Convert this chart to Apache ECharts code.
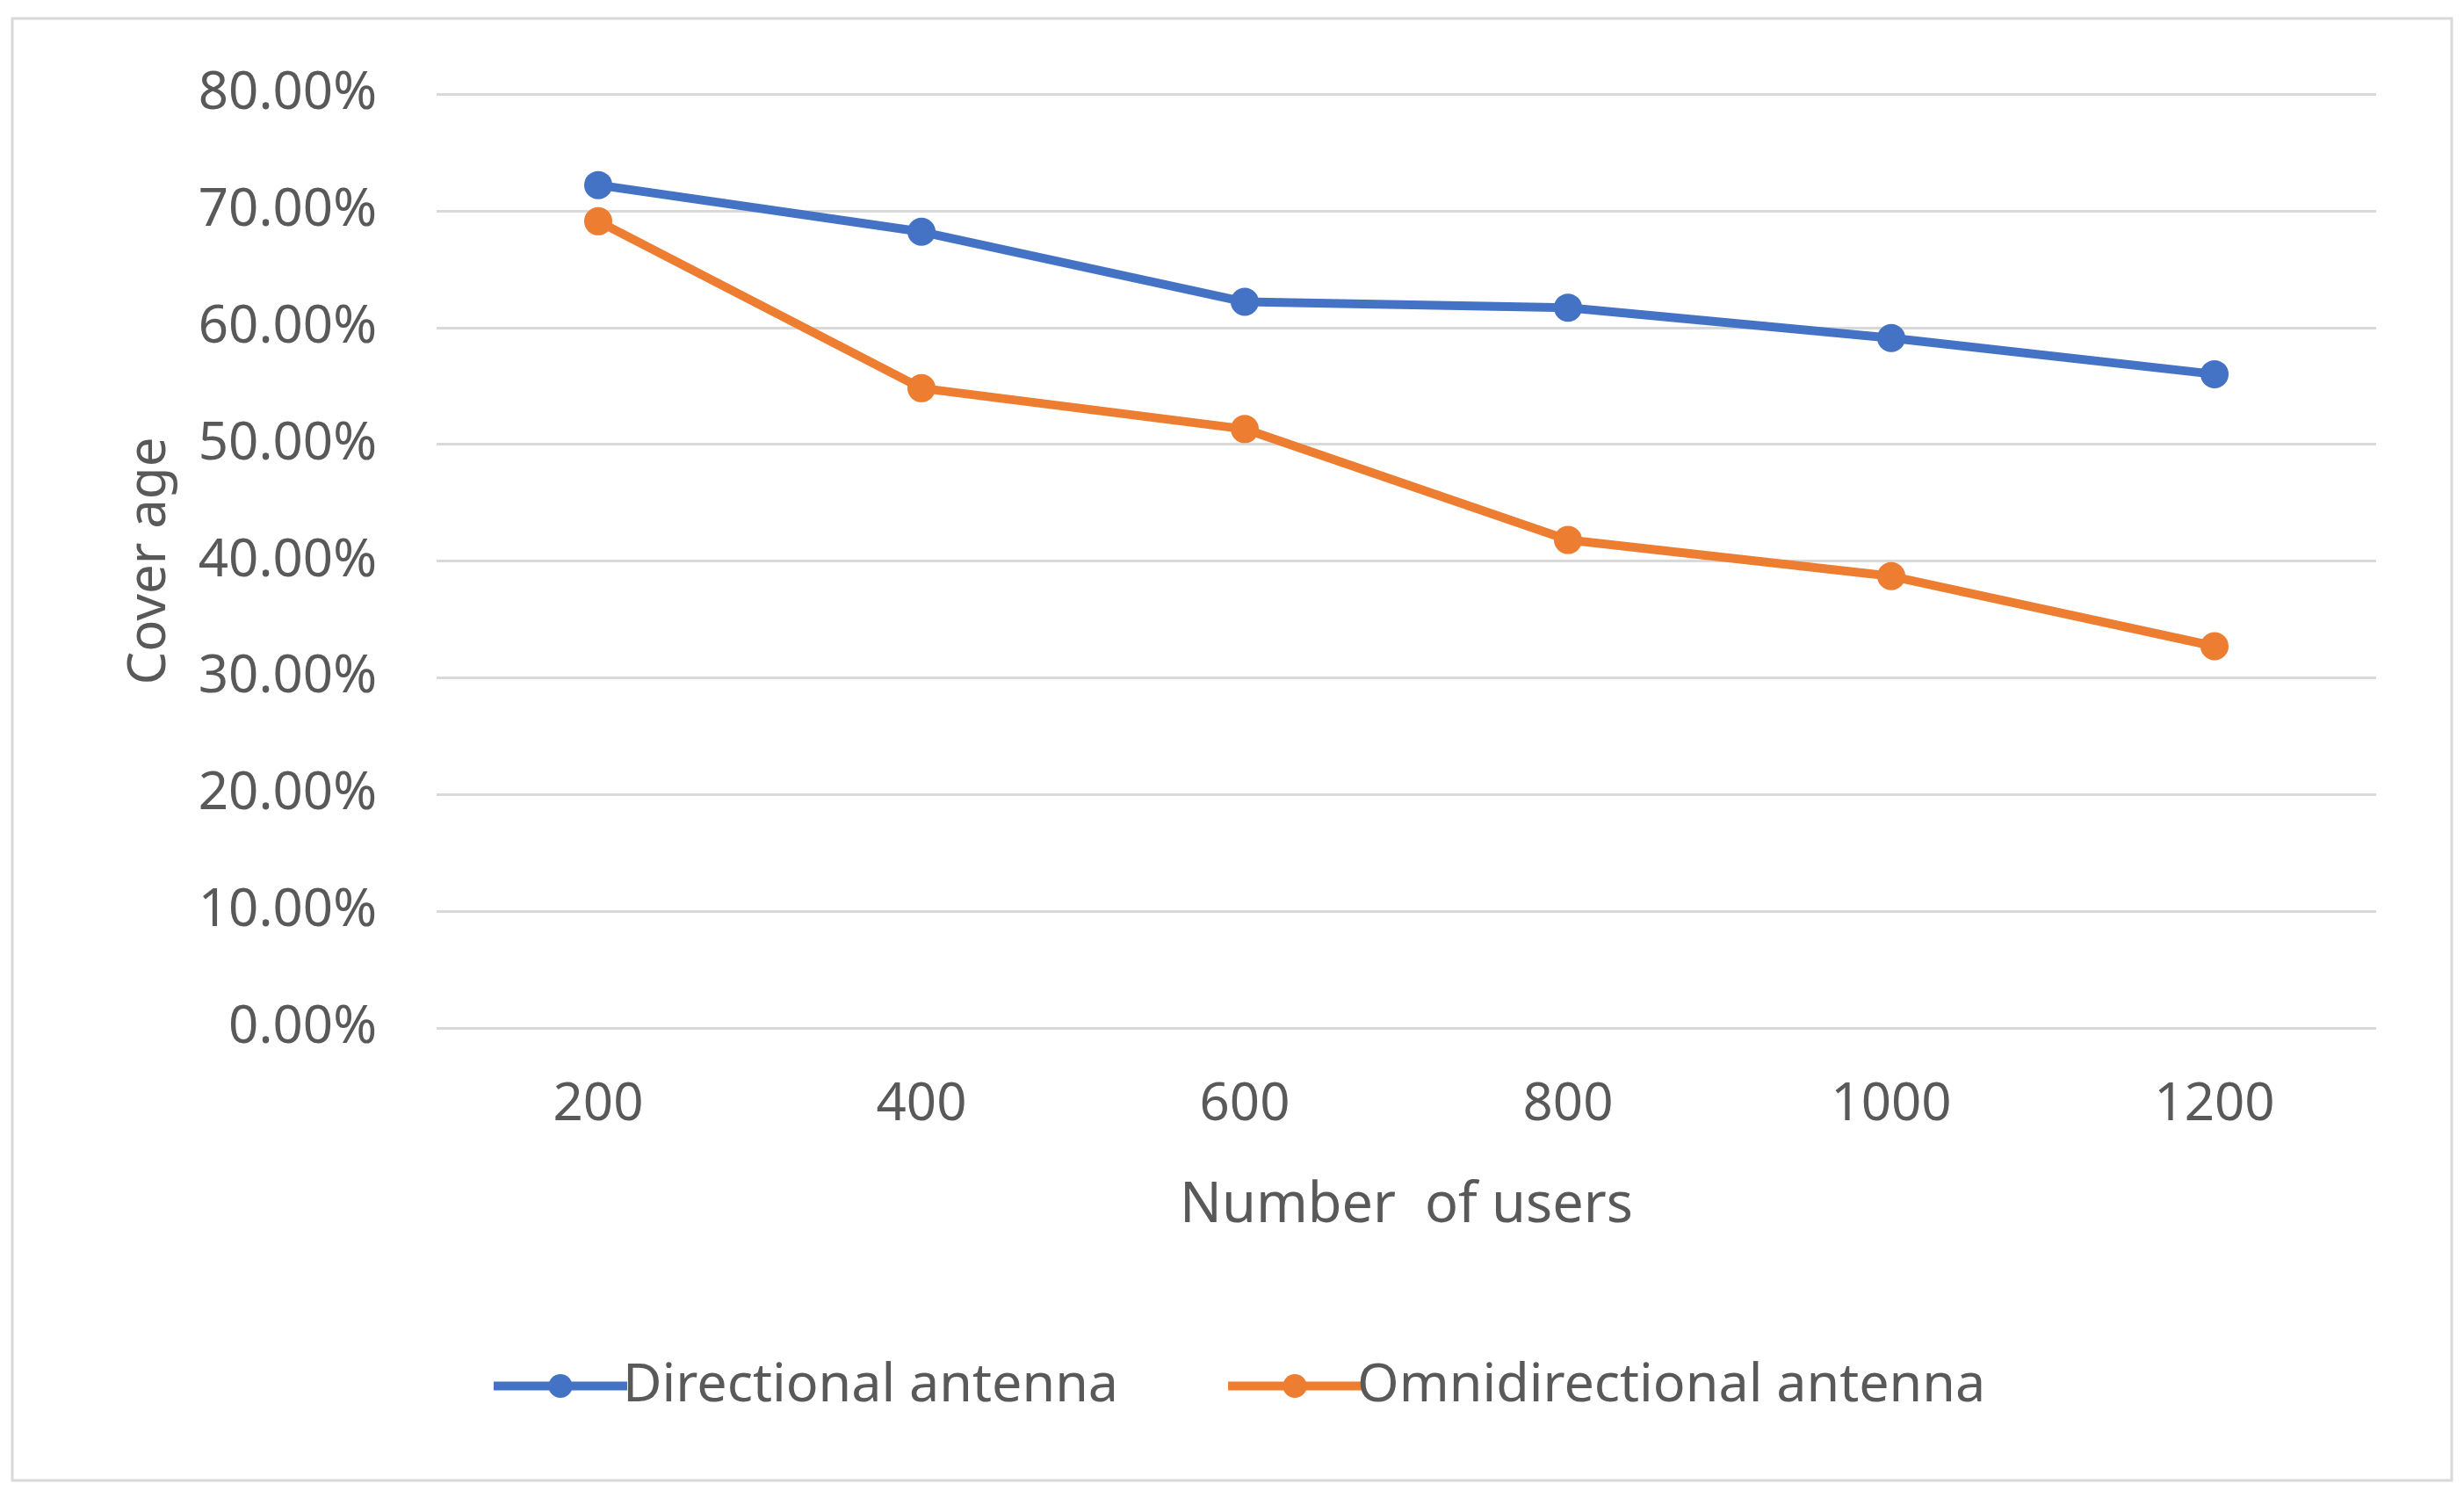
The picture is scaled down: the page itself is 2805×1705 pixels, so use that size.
<!DOCTYPE html>
<html>
<head>
<meta charset="utf-8">
<script src="https://cdn.jsdelivr.net/npm/echarts@6/dist/echarts.min.js"></script>
<style>
html,body{margin:0;padding:0;background:#fff;}
#chart{width:2805px;height:1705px;}
</style>
</head>
<body>
<div id="chart"></div>
<script>
const categories = ['200', '400', '600', '800', '1000', '1200'];
const directional = [72.2, 68.2, 62.2, 61.7, 59.1, 56.0];
const omnidirectional = [69.1, 54.8, 51.3, 41.8, 38.7, 32.7];
const seriesNames = ['Directional antenna', 'Omnidirectional antenna'];
const xTitle = 'Number  of users';
const yTitle = 'Cover age';

const textColor = '#595959';
const font = 'Noto Sans';
const chart = echarts.init(document.getElementById('chart'));
chart.setOption({
  backgroundColor: '#fff',
  animation: false,
  graphic: [{
    type: 'rect',
    shape: {x: 14, y: 21, width: 2777, height: 1664},
    style: {fill: 'none', stroke: '#d9d9d9', lineWidth: 3},
    silent: true
  }],
  grid: {left: 497, right: 100, top: 107, bottom: 535},
  legend: {
    left: 552, top: 1542,
    itemWidth: 152, itemHeight: 34, itemGap: 120,
    lineStyle: {width: 10},
    textStyle: {color: textColor, fontSize: 61, fontFamily: font, padding: [0, 0, 0, -10]},
    data: seriesNames
  },
  xAxis: {
    type: 'category',
    data: categories,
    boundaryGap: true,
    name: xTitle,
    nameLocation: 'middle',
    nameGap: 172,
    nameTextStyle: {color: textColor, fontSize: 63, fontFamily: font},
    axisLine: {show: false},
    axisTick: {show: false},
    axisLabel: {color: textColor, fontSize: 60, fontFamily: font, margin: 58}
  },
  yAxis: {
    type: 'value',
    min: 0, max: 80, interval: 10,
    name: yTitle,
    nameLocation: 'middle',
    nameGap: 296,
    nameTextStyle: {color: textColor, fontSize: 60, fontFamily: font},
    axisLine: {show: false},
    axisTick: {show: false},
    axisLabel: {color: textColor, fontSize: 60, fontFamily: font, margin: 68,
      formatter: v => v.toFixed(2) + '%'},
    splitLine: {lineStyle: {color: '#d9d9d9', width: 3}}
  },
  series: [
    {name: seriesNames[0], type: 'line', data: directional,
     symbol: 'circle', symbolSize: 32,
     itemStyle: {color: '#4472C4'}, lineStyle: {color: '#4472C4', width: 10}},
    {name: seriesNames[1], type: 'line', data: omnidirectional,
     symbol: 'circle', symbolSize: 32,
     itemStyle: {color: '#ED7D31'}, lineStyle: {color: '#ED7D31', width: 10}}
  ]
});
</script>
</body>
</html>
